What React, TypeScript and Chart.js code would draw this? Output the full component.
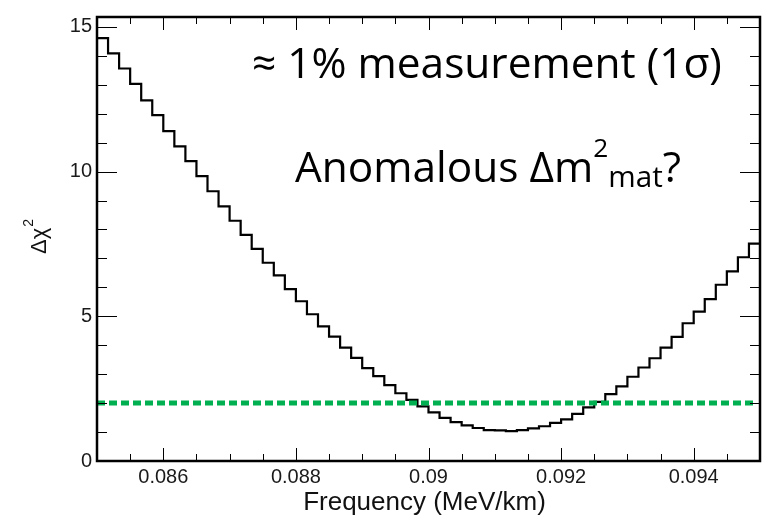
import React, { useEffect, useRef } from 'react';
import { Chart, registerables } from 'chart.js';

Chart.register(...registerables);

// ---- data ----
const xMin = 0.085;
const xMax = 0.095;
const yMin = 0;
const yMax = 15.34;

// Δχ² per frequency bin (60 equal bins between xMin and xMax)
const deltaChi2 = [
  14.61, 14.08, 13.56, 13.03, 12.46, 11.95, 11.40, 10.87, 10.36, 9.84,
  9.32, 8.80, 8.30, 7.81, 7.33, 6.85, 6.41, 5.94, 5.52, 5.07,
  4.65, 4.30, 3.92, 3.56, 3.21, 2.93, 2.62, 2.34, 2.11, 1.89,
  1.68, 1.49, 1.34, 1.23, 1.14, 1.07, 1.06, 1.03, 1.07, 1.13,
  1.20, 1.32, 1.44, 1.63, 1.85, 2.04, 2.31, 2.58, 2.91, 3.23,
  3.55, 3.92, 4.29, 4.76, 5.16, 5.59, 6.09, 6.55, 7.04, 7.51,
];

const thresholdValue = 2;
const thresholdRange = [0.085, 0.0949];

const xMajorTicks = [0.086, 0.088, 0.09, 0.092, 0.094];
const xTickLabels = ['0.086', '0.088', '0.09', '0.092', '0.094'];
const xMinorStep = 0.0005;
const yMajorTicks = [0, 5, 10, 15];
const yTickLabels = ['0', '5', '10', '15'];
const yMinorStep = 1;

const xTitle = 'Frequency (MeV/km)';
const yTitleMain = 'Δχ';
const yTitleSup = '2';
const noteLine1 = '≈ 1% measurement (1σ)';
const noteLine2Main = 'Anomalous Δm';
const noteLine2Sup = '2';
const noteLine2Sub = 'mat';
const noteLine2End = '?';

const AXIS_FONT = '"Liberation Sans", Arial, Helvetica, sans-serif';
const NOTE_FONT = '"Open Sans", Lato, sans-serif';

const framePlugin = {
  id: 'rootFrame',
  afterDatasetsDraw(chart: any) {
    const { ctx, chartArea, scales } = chart;
    const { left, right, top, bottom } = chartArea;
    const xs = scales.x;
    const ys = scales.y;
    ctx.save();
    // ticks
    ctx.strokeStyle = '#000';
    ctx.lineWidth = 1;
    ctx.beginPath();
    const nx = Math.round((xMax - xMin) / xMinorStep);
    for (let i = 1; i < nx; i++) {
      const v = xMin + i * xMinorStep;
      const major = xMajorTicks.some((m) => Math.abs(m - v) < 1e-9);
      const len = major ? 13 : 7;
      const px = Math.round(xs.getPixelForValue(v)) + 0.5;
      ctx.moveTo(px, bottom);
      ctx.lineTo(px, bottom - len);
      ctx.moveTo(px, top);
      ctx.lineTo(px, top + len);
    }
    for (let v = yMin + yMinorStep; v < yMax; v += yMinorStep) {
      const major = yMajorTicks.includes(v);
      const len = major ? 20 : 10;
      const py = Math.round(ys.getPixelForValue(v)) + 0.5;
      ctx.moveTo(left, py);
      ctx.lineTo(left + len, py);
      ctx.moveTo(right, py);
      ctx.lineTo(right - len, py);
    }
    ctx.stroke();
    // frame
    ctx.lineWidth = 2.5;
    ctx.strokeRect(left, top, right - left, bottom - top);

    // axis titles
    ctx.fillStyle = '#111';
    ctx.textBaseline = 'alphabetic';
    ctx.font = `26px ${AXIS_FONT}`;
    ctx.textAlign = 'center';
    ctx.fillText(xTitle, (left + right) / 2 - 4, 510);

    ctx.save();
    ctx.translate(46, 254);
    ctx.rotate(-Math.PI / 2);
    ctx.textAlign = 'left';
    ctx.font = `22px ${AXIS_FONT}`;
    ctx.fillText(yTitleMain, 0, 0);
    const w = ctx.measureText(yTitleMain).width;
    ctx.font = `14px ${AXIS_FONT}`;
    ctx.fillText(yTitleSup, w + 1, -13);
    ctx.restore();

    // annotations: size fitted so line 1 spans the same width as in the figure
    ctx.fillStyle = '#000';
    ctx.textAlign = 'left';
    ctx.font = `100px ${NOTE_FONT}`;
    const w100 = ctx.measureText(noteLine1).width;
    const fs = (100 * 470) / w100;
    ctx.font = `${fs}px ${NOTE_FONT}`;
    ctx.fillText(noteLine1, 252, 78);

    let x = 295;
    ctx.fillText(noteLine2Main, x, 182);
    x += ctx.measureText(noteLine2Main).width;
    ctx.font = `${fs * 0.62}px ${NOTE_FONT}`;
    ctx.fillText(noteLine2Sup, x, 157);
    x += ctx.measureText(noteLine2Sup).width;
    ctx.font = `${fs * 0.7}px ${NOTE_FONT}`;
    ctx.fillText(noteLine2Sub, x, 187);
    x += ctx.measureText(noteLine2Sub).width;
    ctx.font = `${fs}px ${NOTE_FONT}`;
    ctx.fillText(noteLine2End, x, 182);

    ctx.restore();
  },
};

export default function App() {
  const canvasRef = useRef<HTMLCanvasElement | null>(null);

  useEffect(() => {
    const canvas = canvasRef.current;
    if (!canvas) return;
    const binWidth = (xMax - xMin) / deltaChi2.length;
    const stepPoints = deltaChi2.map((v, i) => ({ x: xMin + i * binWidth, y: v }));
    stepPoints.push({ x: xMax, y: deltaChi2[deltaChi2.length - 1] });

    const chart = new Chart(canvas, {
      type: 'line',
      data: {
        datasets: [
          {
            label: 'threshold',
            data: thresholdRange.map((x) => ({ x, y: thresholdValue })),
            borderColor: '#00b050',
            borderWidth: 5,
            borderDash: [8, 4],
            borderCapStyle: 'butt',
            pointRadius: 0,
            fill: false,
          },
          {
            label: 'Δχ²',
            data: stepPoints,
            stepped: 'before',
            borderColor: '#000',
            borderWidth: 2.2,
            pointRadius: 0,
            fill: false,
          },
        ],
      },
      options: {
        responsive: false,
        animation: false,
        devicePixelRatio: 1,
        layout: { padding: { left: 0, right: 8, top: 9, bottom: 0 } },
        plugins: { legend: { display: false }, tooltip: { enabled: false } },
        scales: {
          x: {
            type: 'linear',
            min: xMin,
            max: xMax,
            grid: { display: false, drawTicks: false },
            border: { display: false },
            ticks: {
              autoSkip: false,
              maxRotation: 0,
              padding: 4,
              color: '#1a1a1a',
              font: { family: AXIS_FONT, size: 20 },
              callback: (_v: any, i: number) => xTickLabels[i],
            },
            afterBuildTicks: (s: any) => {
              s.ticks = xMajorTicks.map((value) => ({ value }));
            },
            afterFit: (s: any) => {
              s.height = 55;
            },
          },
          y: {
            type: 'linear',
            min: yMin,
            max: yMax,
            grid: { display: false, drawTicks: false },
            border: { display: false },
            ticks: {
              autoSkip: false,
              padding: 5,
              color: '#1a1a1a',
              font: { family: AXIS_FONT, size: 20 },
              callback: (_v: any, i: number) => yTickLabels[i],
            },
            afterBuildTicks: (s: any) => {
              s.ticks = yMajorTicks.map((value) => ({ value }));
            },
            afterFit: (s: any) => {
              s.width = 97;
            },
          },
        },
      } as any,
      plugins: [framePlugin],
    });
    return () => chart.destroy();
  }, []);

  return (
    <div style={{ position: 'absolute', left: 0, top: 0, width: 768, height: 516, background: '#fff' }}>
      <canvas ref={canvasRef} width={768} height={516} style={{ display: 'block' }} />
    </div>
  );
}
